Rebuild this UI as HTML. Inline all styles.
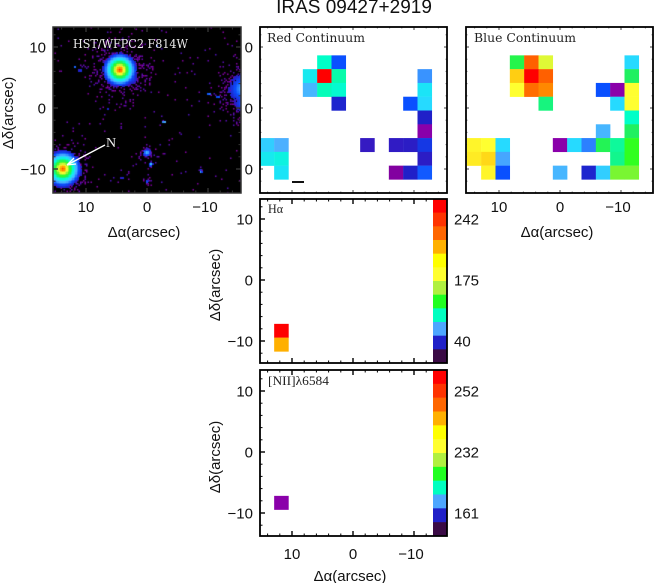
<!DOCTYPE html>
<html>
<head>
<meta charset="utf-8">
<style>
html,body{margin:0;padding:0;background:#fff;}
#stage{position:relative;width:654px;height:583px;overflow:hidden;background:#fff;}
#sky{position:absolute;left:53px;top:27px;width:188px;height:166px;}
#overlay{position:absolute;left:0;top:0;}
text{font-family:"Liberation Sans",sans-serif;fill:#111;}
</style>
</head>
<body>
<div id="stage">
<canvas id="sky" width="188" height="166"></canvas>
<svg id="overlay" width="654" height="583" xmlns="http://www.w3.org/2000/svg">
<defs><clipPath id="clipRedLabels"><rect x="245" y="0" width="20" height="200"/></clipPath></defs>
<text x="354" y="13" font-size="19" text-anchor="middle">IRAS 09427+2919</text>
</svg>
</div>
<script>
// Chart data (colour-scale values 0-100; null = empty spaxel)
const redGrid = [
[null,null,null,null,55,30,null,null,null,null,null,null],
[null,null,null,50,100,57,null,null,null,null,null,37],
[null,null,null,41,56,54,null,null,null,null,null,49],
[null,null,null,null,null,21,null,null,null,null,30,47],
[null,null,null,null,null,null,null,null,null,null,null,20],
[null,null,null,null,null,null,null,null,null,null,null,10],
[45,40,null,null,null,null,null,18,null,18.5,19,25],
[50,52,null,null,null,null,null,null,null,null,null,19],
[null,49,null,null,null,null,null,null,null,9,20,31]
];
const blueGrid = [
[null,null,null,64,94,78,null,null,null,null,null,47],
[null,null,null,85,100,94,null,null,null,null,null,62],
[null,null,null,80,93,91,null,null,null,30,10,80],
[null,null,null,null,null,60,null,null,null,null,47,80],
[null,null,null,null,null,null,null,null,null,null,null,55],
[null,null,null,null,null,null,null,null,null,41,null,62],
[81,80,47,null,null,null,10,47,35,63,58,68],
[82,84,39,null,null,null,null,null,null,null,59,68],
[null,81,30,null,null,null,41,null,21,45,72,72]
];
const haGrid = [
[null,null,null,null,null,null,null,null,null,null,null,null],
[null,null,null,null,null,null,null,null,null,null,null,null],
[null,null,null,null,null,null,null,null,null,null,null,null],
[null,null,null,null,null,null,null,null,null,null,null,null],
[null,null,null,null,null,null,null,null,null,null,null,null],
[null,null,null,null,null,null,null,null,null,null,null,null],
[null,null,null,null,null,null,null,null,null,null,null,null],
[null,100,null,null,null,null,null,null,null,null,null,null],
[null,88,null,null,null,null,null,null,null,null,null,null]
];
const niiGrid = [
[null,null,null,null,null,null,null,null,null,null,null,null],
[null,null,null,null,null,null,null,null,null,null,null,null],
[null,null,null,null,null,null,null,null,null,null,null,null],
[null,null,null,null,null,null,null,null,null,null,null,null],
[null,null,null,null,null,null,null,null,null,null,null,null],
[null,null,null,null,null,null,null,null,null,null,null,null],
[null,null,null,null,null,null,null,null,null,null,null,null],
[null,10,null,null,null,null,null,null,null,null,null,null],
[null,null,null,null,null,null,null,null,null,null,null,null]
];
const raTicks = [10,0,-10];
const decTicks = [10,0,-10];
const haBarTicks = ["242","175","40"];
const niiBarTicks = ["252","232","161"];
const barLevels = ["#ff0000","#ff3300","#ff6600","#ffb000","#ffff00","#ffff30","#b0f040","#20ff20","#00ffc0","#4da6ff","#2020c8","#3a0a45"];

const scaleStops = [[0,58,10,69],[10,138,0,170],[20,32,32,200],[30,10,80,255],[40,77,176,255],[48,32,224,255],[55,0,255,200],[62,32,240,96],[68,48,255,32],[75,176,240,64],[80,255,255,48],[88,255,176,0],[94,255,96,0],[100,255,0,0]];
function colorParts(v){
  v=Math.max(0,Math.min(100,v));
  for(let i=1;i<scaleStops.length;i++){
    const a=scaleStops[i-1],b=scaleStops[i];
    if(v<=b[0]){
      const t=(v-a[0])/(b[0]-a[0]);
      return [a[1]+(b[1]-a[1])*t,a[2]+(b[2]-a[2])*t,a[3]+(b[3]-a[3])*t];
    }
  }
  return [255,0,0];
}
function colorOf(v){const c=colorParts(v);return 'rgb('+c.map(Math.round).join(',')+')';}

const svg=document.getElementById('overlay');
const NS='http://www.w3.org/2000/svg';
const PX=6.1, gridRa0=14.1, gridRaStep=2.35, gridDec0=7.5, gridDecStep=2.26;
function mk(tag,attrs,parent){
  const e=document.createElementNS(NS,tag);
  for(const k in attrs)e.setAttribute(k,attrs[k]);
  (parent||svg).appendChild(e);
  return e;
}
function axisX(p,ra){return p.x0-ra*PX;}
function axisY(p,dec){return p.y0-dec*PX;}

function drawPanel(p){
  const g=mk('g',{});
  
  
  const stroke=p.frame||'#000';
  const tickColor=p.tickColor||stroke;
  const tickScale=p.tickScale||1;
  const b=p.t+p.h, r=p.l+p.w;
  for(let v=-14;v<=14;v+=2){
    const major=v%10===0, len=(major?5:2.5)*tickScale, x=axisX(p,v);
    if(x>p.l&&x<r){
      const w=major?1.4:1;
      [[p.t,p.t+len],[b,b-len]].forEach(function(q){
        const tk=mk('line',{x1:x,x2:x,y1:q[0],y2:q[1],stroke:tickColor,'stroke-width':w},g);
        
        
      });
    }
  }
  for(let v=-12;v<=12;v+=2){
    const major=v%10===0, len=(major?5:2.5)*tickScale, y=axisY(p,v);
    [[p.l,p.l+len],[r,r-len]].forEach(function(q){
      const tk=mk('line',{x1:q[0],x2:q[1],y1:y,y2:y,stroke:tickColor,'stroke-width':major?1.4:1},g);
      
      
    });
  }
  if(p.grid){
    p.grid.forEach(function(row,rr){
      row.forEach(function(v,c){
        if(v===null)return;
        const ra=gridRa0-gridRaStep*c, dec=gridDec0-gridDecStep*rr;
        const cell=mk('rect',{x:axisX(p,ra+gridRaStep/2),y:axisY(p,dec+gridDecStep/2),width:gridRaStep*PX+0.2,height:gridDecStep*PX+0.2,fill:colorOf(v)},g);
        
        
      });
    });
  }
  if(p.bar){
    const h=p.h/barLevels.length;
    barLevels.forEach(function(col,i){
      const seg=mk('rect',{x:p.l+p.w-14,y:p.t+i*h,width:14,height:h+0.3,fill:col},g);
      
      
    });
    p.bar.forEach(function(lab,i){
      const t=mk('text',{x:454,y:axisY(p,decTicks[i])+5.5,'font-size':15},g);
      t.textContent=lab;
      
      
    });
  }
  const fr=mk('rect',{x:p.l,y:p.t,width:p.w,height:p.h,fill:'none',stroke:stroke,'stroke-width':p.frameW||1.8},g);
  
  
  if(p.yLabels){
    decTicks.forEach(function(v){
      const t=mk('text',{x:p.yLabelX,y:axisY(p,v)+5.5,'font-size':15,'text-anchor':'end'},g);
      if(p.yClip)t.setAttribute('clip-path',p.yClip);
      t.textContent=v<0?'\u2212'+(-v):''+v;
      
      
    });
  }
  if(p.yTitle){
    const yc=axisY(p,0)+p.yTitle.dy;
    const t=mk('text',{x:p.yTitle.x,y:yc,'font-size':15,'text-anchor':'middle',transform:'rotate(-90 '+p.yTitle.x+' '+yc+')'},g);
    t.textContent='\u0394\u03b4(arcsec)';
    
    
  }
  if(p.xLabelY){
    raTicks.forEach(function(v){
      const t=mk('text',{x:axisX(p,v)-(v<0?3:0),y:p.xLabelY,'font-size':15,'text-anchor':'middle'},g);
      t.textContent=v<0?'\u2212'+(-v):''+v;
      
      
    });
    const t=mk('text',{x:p.xTitleX,y:p.xTitleY,'font-size':15,'text-anchor':'middle'},g);
    t.textContent='\u0394\u03b1(arcsec)';
    
    
  }
  if(p.label){
    const fam=p.label.family||'"Liberation Serif",serif';
    const t=mk('text',{x:p.label.x,y:p.label.y,'font-size':p.label.size,textLength:p.label.len,lengthAdjust:'spacingAndGlyphs'},g);
    t.setAttribute('style','font-family:'+fam+';fill:'+(p.label.fill||'#222'));
    t.textContent=p.label.text;
    
    
  }
}

const wideSerif='"DejaVu Serif",serif';
drawPanel({name:'hst-image',l:53,t:27,w:188,h:166,x0:147,y0:108,frame:'#333',frameW:1.5,yLabels:true,yLabelX:46,yTitle:{x:13,dy:5},xLabelY:212,xTitleX:144,xTitleY:237,label:{text:'HST/WFPC2 F814W',x:73,y:48,size:12,len:115,fill:'#eee',family:wideSerif}});
drawPanel({name:'red-continuum',grid:redGrid,l:260,t:27,w:187,h:166,x0:353,y0:108,tickColor:'#777',tickScale:0.6,yLabels:true,yLabelX:253,yClip:'url(#clipRedLabels)',label:{text:'Red Continuum',x:267,y:42,size:12,len:98,family:wideSerif}});
drawPanel({name:'blue-continuum',grid:blueGrid,l:466,t:27,w:187,h:166,x0:560,y0:108,tickColor:'#777',tickScale:0.6,xLabelY:212,xTitleX:557,xTitleY:237,label:{text:'Blue Continuum',x:474,y:42,size:12,len:102,family:wideSerif}});
drawPanel({name:'h-alpha',grid:haGrid,bar:haBarTicks,l:260,t:199,w:187,h:164,x0:353,y0:280,yLabels:true,yLabelX:253,yTitle:{x:220,dy:5},label:{text:'H\u03b1',x:268,y:213,size:13,len:15}});
drawPanel({name:'nii-6584',grid:niiGrid,bar:niiBarTicks,l:260,t:370,w:187,h:166,x0:353,y0:452,yLabels:true,yLabelX:253,yTitle:{x:220,dy:5},xLabelY:559,xTitleX:350,xTitleY:581,label:{text:'[NII]\u03bb6584',x:268,y:385,size:13,len:61}});

const scaleBar=mk('rect',{x:292,y:181,width:12,height:2,fill:'#111'});



const arrow=mk('path',{d:'M105 145 L67 165 M67 165 L74 158 M67 165 L76 164',stroke:'#fff','stroke-width':1.3,fill:'none'});


const nLabel=mk('text',{x:106,y:147,'font-size':14,style:'font-family:"Liberation Serif",serif;fill:#eee'});
nLabel.textContent='N';



// HST image texture: a = peak level, R = solid radius, H = speckle-halo radius
const blobs=[
 {x:67,y:43,a:100,R:21,H:40},
 {x:77,y:51,a:34,R:15,H:20},
 {x:10,y:142,a:98,R:23,H:34},
 {x:191,y:62,a:44,R:26,H:36},
 {x:191,y:76,a:36,R:18,H:26},
 {x:94,y:126,a:48,R:6.5,H:11},
 {x:98,y:137.5,a:50,R:3,H:3},
 {x:148,y:144.5,a:45,R:3,H:3},
 {x:94,y:154.5,a:36,R:3.5,H:6},
 {x:111,y:95,a:62,R:2,H:2},
 {x:156,y:67,a:54,R:2,H:2},
 {x:165,y:70,a:50,R:2,H:2},
 {x:54,y:82,a:30,R:2.5,H:2.5},
 {x:27,y:43.5,a:50,R:1.8,H:1.8},
 {x:7,y:45,a:36,R:2,H:2},
 {x:22,y:40,a:44,R:1.6,H:1.6},
 {x:104,y:19,a:30,R:2,H:2},
 {x:69,y:150.5,a:32,R:2,H:2}
];
(function(){
  const ctx=document.getElementById('sky').getContext('2d');
  ctx.fillStyle='#000';
  ctx.fillRect(0,0,188,166);
  function hash(a,b,k){
    let h=(a*73856093)^(b*19349663)^(k*83492791);
    h=Math.imul(h^(h>>>13),1274126177);
    h=Math.imul(h^(h>>>16),2654435761|0);
    h=h^(h>>>15);
    return ((h>>>0)%10007)/10007;
  }
  const step=1.5;
  for(let j=0;j<111;j++){
    for(let i=0;i<126;i++){
      const px=i*step+0.7,py=j*step+0.7;
      let v=0,p=0.014;
      blobs.forEach(function(b){
        const dx=px-b.x,dy=py-b.y,d=Math.sqrt(dx*dx+dy*dy);
        if(d<b.R)v=Math.max(v,b.a*(1-d/b.R));
        if(d<b.H){const f=1-d/b.H;p=Math.max(p,0.65*Math.pow(f,1.5)+0.05);}
      });
      if(v>=18&&(v>=23||hash(i,j,3)<0.7)){
        ctx.fillStyle=colorOf(v);
        ctx.fillRect(Math.floor(i*step),Math.floor(j*step),2,2);
      }else if(hash(i,j,1)<p){
        ctx.fillStyle=colorOf(8+hash(i,j,2)*8);
        ctx.fillRect(i*step,j*step,step,step);
      }
    }
  }
})();
</script>
</body>
</html>
